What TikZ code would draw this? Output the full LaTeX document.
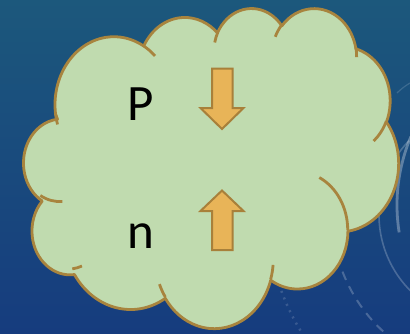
\documentclass[tikz,border=0pt]{standalone}
\usepackage{fontspec}
\setmainfont{Carlito}
\definecolor{bgtop}{RGB}{28,88,124}
\definecolor{bgbot}{RGB}{22,60,126}
\definecolor{cloudfill}{RGB}{192,219,175}
\definecolor{cloudline}{RGB}{168,132,62}
\definecolor{arrowfill}{RGB}{232,180,88}
\definecolor{arrowline}{RGB}{168,128,58}
\newcommand\cldcalc[4]{%
  \pgfmathsetmacro\cldtmpA{atan2((#1)*sin(#3),(#2)*cos(#3))}%
  \pgfmathsetmacro\cldtmpB{atan2((#1)*sin((#3)+(#4)),(#2)*cos((#3)+(#4)))}%
  \pgfmathsetmacro\cldtmpD{mod((\cldtmpB)-(\cldtmpA)+720,360)}%
  \pgfmathsetmacro\cldtmpE{(\cldtmpA)+(\cldtmpD)}%
  \global\let\cldtA\cldtmpA
  \global\let\cldtB\cldtmpE
}
\tikzset{
  carc/.style n args={4}{insert path={\pgfextra{\cldcalc{#1}{#2}{#3}{#4}} arc[start angle=\cldtA, end angle=\cldtB, x radius=#1, y radius=#2]}},
  cloudshape/.style={fill=cloudfill, draw=cloudline, line width=2.8pt, line join=round},
  cloudarcs/.style={draw=cloudline, line width=2.8pt},
  bigarrow/.style={fill=arrowfill, draw=arrowline, line width=2pt, line join=miter},
  lbl/.style={font=\fontsize{51}{51}\selectfont, text=black, inner sep=0pt, anchor=base},
  deco/.style={draw=white, opacity=0.22},
}
\begin{document}
\begin{tikzpicture}[x=1pt, y=-1pt]
\shade[top color=bgtop, bottom color=bgbot] (0,0) rectangle (410,333);
\useasboundingbox (0,0) rectangle (410,333);
\clip (0,0) rectangle (410,333);
% faint decorative arcs
\draw[deco, line width=2.8pt, opacity=0.3] ([shift={(171:175)}]572,205) arc[start angle=171, end angle=203, radius=175];
\draw[deco, line width=1.6pt] ([shift={(224:107)}]486,215) arc[start angle=224, end angle=128, radius=107];
\draw[deco, line width=1.2pt, opacity=0.15] (397,93) .. controls (401,89) and (405,86) .. (410,83);
\draw[deco, line width=2pt, dash pattern=on 9pt off 7pt] ([shift={(159:158)}]490,215) arc[start angle=159, end angle=128, radius=158];
\draw[deco, line width=2.5pt, opacity=0.15, dash pattern=on 2pt off 5pt] ([shift={(160:222)}]490,215) arc[start angle=160, end angle=145, radius=222];
% cloud
\begin{scope}[shift={(21.5,7.5)}, xscale=8.72685, yscale=7.40741]
\path[cloudshape] (3.900,14.370)
  [carc={6.753}{9.190}{-190.487483}{123.780533}]
  [carc={5.333}{7.267}{-144.102383}{89.945233}]
  [carc={4.365}{5.945}{-145.807917}{99.723017}]
  [carc={4.857}{6.595}{-130.986067}{117.241733}]
  [carc={5.333}{7.273}{-78.708883}{109.026917}]
  [carc={6.775}{9.220}{-46.26725}{130.269}]
  [carc={5.785}{7.867}{0.625017}{114.033333}]
  [carc={6.752}{9.215}{22.4516}{115.17255}]
  [carc={7.720}{10.543}{66.242633}{71.622733}]
  [carc={4.360}{5.918}{-274.942083}{146.735567}]
  [carc={4.345}{5.945}{-246.8285}{152.51885}]
  -- cycle;
\path[cloudarcs]
  (4.693,26.177) [carc={4.345}{5.945}{86.742}{26.4295}]
  (6.928,34.899) [carc={4.360}{5.918}{73.610467}{11.447467}]
  (16.478,39.090) [carc={6.752}{9.215}{137.62415}{14.0811}]
  (28.827,34.751) [carc={6.752}{9.215}{6.453267}{15.99835}]
  (34.129,22.954) [carc={5.785}{7.867}{-70.29235}{70.917367}]
  (41.798,15.354) [carc={5.333}{7.273}{30.318033}{27.7515}]
  (38.324,5.426) [carc={4.857}{6.595}{-13.744333}{14.8589}]
  (29.078,3.952) [carc={4.857}{6.595}{-149.18145}{18.195367}]
  (22.141,4.720) [carc={4.365}{5.945}{-163.494267}{17.68635}]
  (14.000,5.192) [carc={6.753}{9.190}{-66.70695}{12.31935}]
  (4.127,15.789) [carc={6.753}{9.190}{157.65435}{11.858167}];
\end{scope}
% arrows
\path[bigarrow] (212,68.5) -- (232.5,68.5) -- (232.5,108) -- (243.5,108) -- (222,129) -- (200.5,108) -- (212,108) -- cycle;
\path[bigarrow] (222,190.5) -- (243.5,211) -- (232.5,211) -- (232.5,250) -- (212,250) -- (212,211) -- (200.5,211) -- cycle;
% labels
\node[lbl] (p) at (141,120.7) {P};
\node[lbl] (n) at (141,248.3) {n};
\end{tikzpicture}
\end{document}
